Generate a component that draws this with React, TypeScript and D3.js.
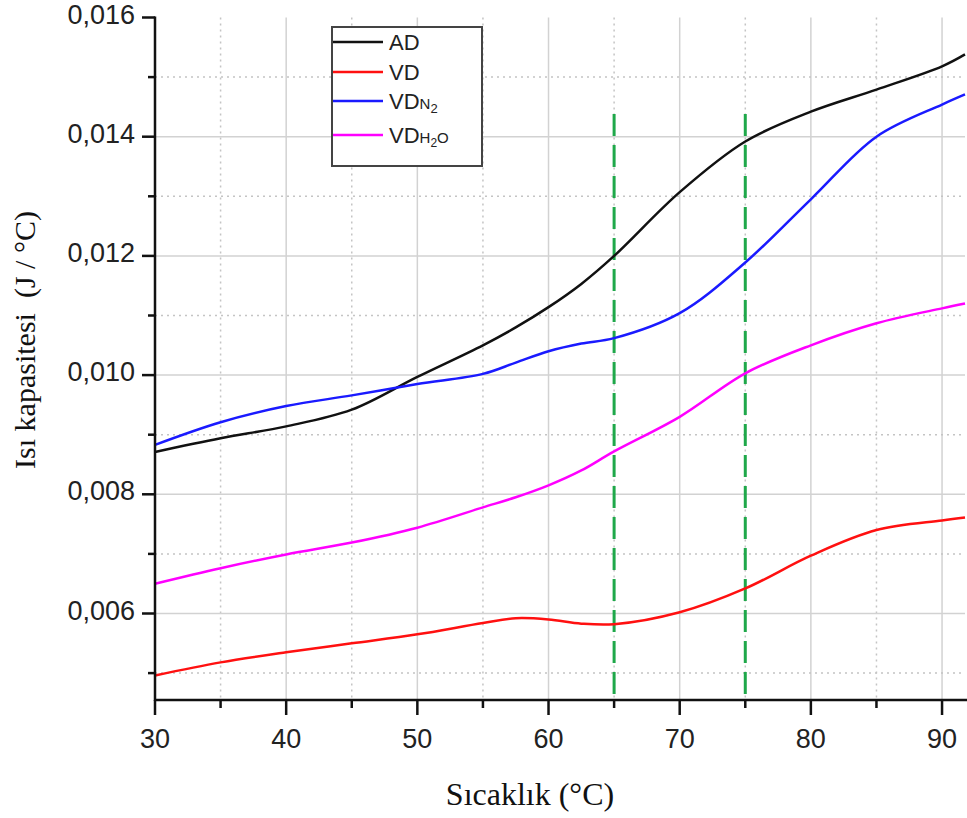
import React from "react";
import * as d3 from "d3";

// temperatures (°C)
const temps = [30, 35, 40, 45, 50, 55, 57.5, 60, 62.5, 65, 70, 75, 80, 85, 90, 91.75];

// heat capacity (J/°C) per series
const adValues = [0.00871, 0.00894, 0.00914, 0.00942, 0.00997, 0.0105, 0.0108, 0.01114, 0.01153, 0.012, 0.01307, 0.01392, 0.01442, 0.01479, 0.01518, 0.01538];
const vdValues = [0.00496, 0.00518, 0.00535, 0.0055, 0.00565, 0.00584, 0.00592, 0.0059, 0.00583, 0.00582, 0.00602, 0.00642, 0.00697, 0.0074, 0.00756, 0.00761];
const vdN2Values = [0.00883, 0.00921, 0.00948, 0.00966, 0.00985, 0.01002, 0.01021, 0.0104, 0.01053, 0.01062, 0.01104, 0.01189, 0.01295, 0.014, 0.01454, 0.01471];
const vdH2OValues = [0.0065, 0.00676, 0.00699, 0.00719, 0.00744, 0.00778, 0.00795, 0.00815, 0.0084, 0.00872, 0.0093, 0.01003, 0.0105, 0.01087, 0.01112, 0.0112];

const xMajor = [30, 40, 50, 60, 70, 80, 90];
const xMinor = [35, 45, 55, 65, 75, 85];
const yMajor = [0.006, 0.008, 0.01, 0.012, 0.014, 0.016];
const yMinor = [0.005, 0.007, 0.009, 0.011, 0.013, 0.015];
const markers = [65, 75];

const series = [
  { key: "AD", values: adValues, color: "#111111" },
  { key: "VD", values: vdValues, color: "#ff1010" },
  { key: "VDN2", values: vdN2Values, color: "#1a1aff" },
  { key: "VDH2O", values: vdH2OValues, color: "#ff00ff" },
];

const W = 967;
const H = 818;
const left = 155;
const right = 965;
const top = 17.5;
const bottom = 700;

const App = () => {
  const x = d3.scaleLinear().domain([30, 91.75]).range([left, right]);
  const y = d3.scaleLinear().domain([0.006, 0.016]).range([613.5, top]);

  const line = d3
    .line<number>()
    .x((_, i) => x(temps[i]))
    .y((d) => y(d))
    .curve(d3.curveCatmullRom);

  const fmt = (v: number) => v.toFixed(3).replace(".", ",");
  const sans = "Arial, 'Liberation Sans', sans-serif";
  const serif = "'Times New Roman', 'Liberation Serif', serif";

  const legendRows = [
    { key: "AD", y: 42 },
    { key: "VD", y: 72 },
    { key: "VDN2", y: 101 },
    { key: "VDH2O", y: 135 },
  ];

  const legendLabel = (key: string) => {
    if (key === "VDN2")
      return (
        <>
          VD<tspan fontSize={15}>N</tspan>
          <tspan fontSize={13} dy={4}>2</tspan>
        </>
      );
    if (key === "VDH2O")
      return (
        <>
          VD<tspan fontSize={15}>H</tspan>
          <tspan fontSize={12} dy={4}>2</tspan>
          <tspan fontSize={15} dy={-4}>O</tspan>
        </>
      );
    return key;
  };

  return (
    <svg width={W} height={H} style={{ position: "absolute", left: 0, top: 0, background: "#fff" }}>
      {/* grid */}
      <g>
        {xMajor.filter((t) => t > 30).map((t) => (
          <line key={"gx" + t} x1={x(t)} x2={x(t)} y1={top} y2={bottom} stroke="#d2d2d2" strokeWidth={1.5} />
        ))}
        {xMinor.map((t) => (
          <line key={"mx" + t} x1={x(t)} x2={x(t)} y1={top} y2={bottom} stroke="#c4c4c4" strokeWidth={1.5} strokeDasharray="2 4" />
        ))}
        {yMajor.filter((t) => t < 0.016).map((t) => (
          <line key={"gy" + t} x1={left} x2={right} y1={y(t)} y2={y(t)} stroke="#d2d2d2" strokeWidth={1.5} />
        ))}
        {yMinor.map((t) => (
          <line key={"my" + t} x1={left} x2={right} y1={y(t)} y2={y(t)} stroke="#c4c4c4" strokeWidth={1.5} strokeDasharray="2 4" />
        ))}
      </g>

      {/* reference lines */}
      {markers.map((t) => (
        <line key={"m" + t} x1={x(t)} x2={x(t)} y1={114} y2={bottom} stroke="#1fa84a" strokeWidth={3} strokeDasharray="22 9" />
      ))}

      {/* curves */}
      {series.map((s) => (
        <path key={s.key} d={line(s.values) || ""} fill="none" stroke={s.color} strokeWidth={2.5} />
      ))}

      {/* axes */}
      <line x1={left} x2={left} y1={top - 1} y2={bottom + 1} stroke="#111" strokeWidth={2.5} />
      <line x1={left - 1} x2={W} y1={bottom} y2={bottom} stroke="#111" strokeWidth={2.5} />
      {xMajor.map((t) => (
        <g key={"tx" + t}>
          <line x1={x(t)} x2={x(t)} y1={bottom} y2={bottom + 15} stroke="#111" strokeWidth={2.5} />
          <text x={x(t)} y={748} textAnchor="middle" fontFamily={sans} fontSize={27} fill="#222">
            {t}
          </text>
        </g>
      ))}
      {xMinor.map((t) => (
        <line key={"tmx" + t} x1={x(t)} x2={x(t)} y1={bottom} y2={bottom + 8} stroke="#111" strokeWidth={2.5} />
      ))}
      {yMajor.map((t) => (
        <g key={"ty" + t}>
          <line x1={left - 13} x2={left} y1={y(t)} y2={y(t)} stroke="#111" strokeWidth={2.5} />
          <text x={135} y={y(t) + 6} textAnchor="end" fontFamily={sans} fontSize={27} fill="#222">
            {fmt(t)}
          </text>
        </g>
      ))}
      {yMinor.map((t) => (
        <line key={"tmy" + t} x1={left - 7} x2={left} y1={y(t)} y2={y(t)} stroke="#111" strokeWidth={2.5} />
      ))}

      {/* axis titles */}
      <text x={530} y={805} textAnchor="middle" fontFamily={serif} fontSize={32} fill="#111">
        Sıcaklık (°C)
      </text>
      <text
        transform="translate(35,340) rotate(-90)"
        textAnchor="middle"
        fontFamily={serif}
        fontSize={30}
        fill="#111"
        style={{ whiteSpace: "pre" }}
      >
        Isı kapasitesi  (J / °C)
      </text>

      {/* legend */}
      <rect x={332} y={27} width={150} height={139} fill="#fff" stroke="#444" strokeWidth={2} />
      {legendRows.map((r, i) => (
        <g key={r.key}>
          <line x1={333} x2={383} y1={r.y} y2={r.y} stroke={series[i].color} strokeWidth={2.5} />
          <text x={389} y={r.y + 8} fontFamily={sans} fontSize={22} fill="#222">
            {legendLabel(r.key)}
          </text>
        </g>
      ))}
    </svg>
  );
};

export default App;
